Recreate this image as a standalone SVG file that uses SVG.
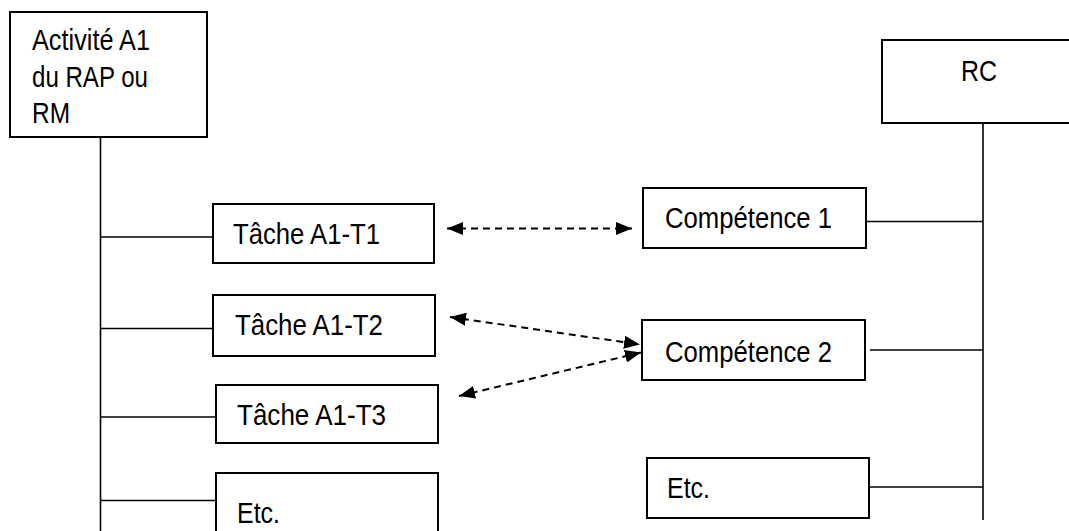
<svg xmlns="http://www.w3.org/2000/svg" width="1069" height="531" viewBox="0 0 1069 531">
<style>
.box{fill:#fff;stroke:#000;stroke-width:2}
.ln{stroke:#000;stroke-width:1.6;fill:none}
.dash{stroke:#000;stroke-width:2;fill:none;stroke-dasharray:7 5}
text{font-family:"Liberation Sans",Arial,sans-serif;font-size:29px;fill:#000}
</style>
<defs>
<marker id="ah" viewBox="0 0 16 13" refX="16" refY="6.5" markerWidth="16" markerHeight="13" markerUnits="userSpaceOnUse" orient="auto-start-reverse">
<path d="M0,0 L16,6.5 L0,13 Z" fill="#000"/>
</marker>
</defs>
<rect width="1069" height="531" fill="#fff"/>
<g id="connectors">
<line class="ln" x1="100.5" y1="137" x2="100.5" y2="531"/>
<line class="ln" x1="100" y1="237" x2="213" y2="237"/>
<line class="ln" x1="100" y1="328.5" x2="213" y2="328.5"/>
<line class="ln" x1="100" y1="417" x2="216" y2="417"/>
<line class="ln" x1="100" y1="500.5" x2="216" y2="500.5"/>
<line class="ln" x1="983" y1="123" x2="983" y2="520"/>
<line class="ln" x1="866" y1="221.5" x2="983" y2="221.5"/>
<line class="ln" x1="870" y1="350" x2="983" y2="350"/>
<line class="ln" x1="869" y1="487" x2="983" y2="487"/>
<line class="dash" x1="447" y1="228.5" x2="632" y2="228.5" marker-start="url(#ah)" marker-end="url(#ah)"/>
<line class="dash" x1="450" y1="317" x2="640" y2="344.5" marker-start="url(#ah)" marker-end="url(#ah)"/>
<line class="dash" x1="459" y1="396" x2="641" y2="352.5" marker-start="url(#ah)" marker-end="url(#ah)"/>
</g>
<g id="activite">
<rect class="box" x="10" y="12" width="197" height="125"/>
<text x="32" y="50" textLength="118" lengthAdjust="spacingAndGlyphs">Activité A1</text>
<text x="32" y="87" textLength="116" lengthAdjust="spacingAndGlyphs">du RAP ou</text>
<text x="32" y="123" textLength="38" lengthAdjust="spacingAndGlyphs">RM</text>
</g>
<g id="tache1">
<rect class="box" x="213" y="204" width="221" height="59"/>
<text x="233" y="244" textLength="147" lengthAdjust="spacingAndGlyphs">Tâche A1-T1</text>
</g>
<g id="tache2">
<rect class="box" x="213" y="295" width="222" height="61"/>
<text x="235" y="335" textLength="148" lengthAdjust="spacingAndGlyphs">Tâche A1-T2</text>
</g>
<g id="tache3">
<rect class="box" x="216" y="385" width="222" height="58"/>
<text x="237" y="425" textLength="149" lengthAdjust="spacingAndGlyphs">Tâche A1-T3</text>
</g>
<g id="etc-left">
<rect class="box" x="216" y="473" width="222" height="70"/>
<text x="237" y="523" textLength="43" lengthAdjust="spacingAndGlyphs">Etc.</text>
</g>
<g id="rc">
<rect class="box" x="882" y="40" width="200" height="83"/>
<text x="961" y="81" textLength="36" lengthAdjust="spacingAndGlyphs">RC</text>
</g>
<g id="competence1">
<rect class="box" x="643" y="188" width="223" height="60"/>
<text x="665" y="228" textLength="167" lengthAdjust="spacingAndGlyphs">Compétence 1</text>
</g>
<g id="competence2">
<rect class="box" x="642" y="320" width="223" height="60"/>
<text x="665" y="362" textLength="167" lengthAdjust="spacingAndGlyphs">Compétence 2</text>
</g>
<g id="etc-right">
<rect class="box" x="647" y="458" width="222" height="60"/>
<text x="667" y="498" textLength="43" lengthAdjust="spacingAndGlyphs">Etc.</text>
</g>
</svg>
